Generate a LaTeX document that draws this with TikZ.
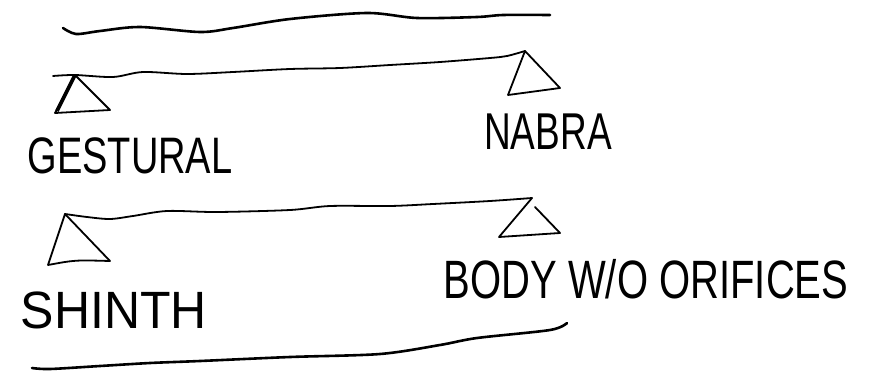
\documentclass[tikz,border=0pt]{standalone}
\usepackage{fontspec}
\setmainfont{Liberation Sans}
\usetikzlibrary{positioning}
\newcommand{\tallword}[2]{\scalebox{1}[#1]{#2}}

\begin{document}
\begin{tikzpicture}[
    x=1pt, y=-1pt,
    every node/.style={inner sep=0pt, align=center},
    word/.style={font=\fontsize{#1}{#1}\selectfont},
    rail/.style={line width=2.6pt, line cap=round, line join=round},
    beam/.style={line width=1.8pt, line cap=round, line join=round},
    fulcrum/.style={line width=1.8pt, line cap=round, line join=round}
  ]
    \useasboundingbox (0,0) rectangle (872,372);

    % Apexes of the triangles
    \coordinate (gestTop) at (75,75);
    \coordinate (nabraTop) at (525,51);
    \coordinate (shinthTop) at (65,214);
    \coordinate (bodyTop) at (532,198);

    % Free ends of beams and rails
    \coordinate (beamAL) at (53,76);
    \coordinate (railAL) at (63,28);
    \coordinate (railAR) at (550,15);
    \coordinate (railBL) at (32,368);
    \coordinate (railBR) at (567,323);

    % Top rail
    \draw[rail] plot[smooth, tension=0.5] coordinates {(railAL) (76,34) (100,31) (140,27) (200,32) (233,28) (290,19) (367,13) (417,18) (477,17) (503,15) (railAR)};

    % Beam between GESTURAL and NABRA
    \draw[beam] plot[smooth, tension=0.5] coordinates {(beamAL) (gestTop) (113,77) (143,72) (187,74) (233,72) (290,69) (340,68) (390,65) (440,62) (490,58) (507,56) (nabraTop)};
    \draw[fulcrum] (gestTop) -- (110,110) -- (55,113) -- cycle;
    \draw[line width=3.6pt] (gestTop) -- (57,111);
    \draw[fulcrum] (nabraTop) -- (508,95) -- (560,88) -- cycle;

    % Beam between SHINTH and BODY W/O ORIFICES
    \draw[beam] plot[smooth, tension=0.5] coordinates {(shinthTop) (87,217) (110,219) (133,216) (167,211) (217,212) (290,210) (330,206) (390,206) (433,204) (490,201) (bodyTop)};
    \draw[fulcrum] (shinthTop) -- (48,265) .. controls (75,260) .. (110,261) -- cycle;
    \draw[fulcrum] (535,207) -- (560,233) -- (499,237) -- (bodyTop);

    % Bottom rail
    \draw[rail] plot[smooth, tension=0.5] coordinates {(railBL) (50,369) (100,366) (150,363) (200,361) (290,357) (380,354) (440,345) (477,338) (550,330) (railBR)};

    % Labels
    \node[word=38] (gestural) at (130,156) {\tallword{1.35}{GESTURAL}};
    \node[word=37] (nabra) at (548,132) {\tallword{1.4}{NABRA}};
    \node[word=50] (shinth) at (114,310) {\tallword{1.05}{SHINTH}};
    \node[word=40] (body) at (646,279) {\tallword{1.35}{BODY W/O ORIFICES}};

\end{tikzpicture}
\end{document}
